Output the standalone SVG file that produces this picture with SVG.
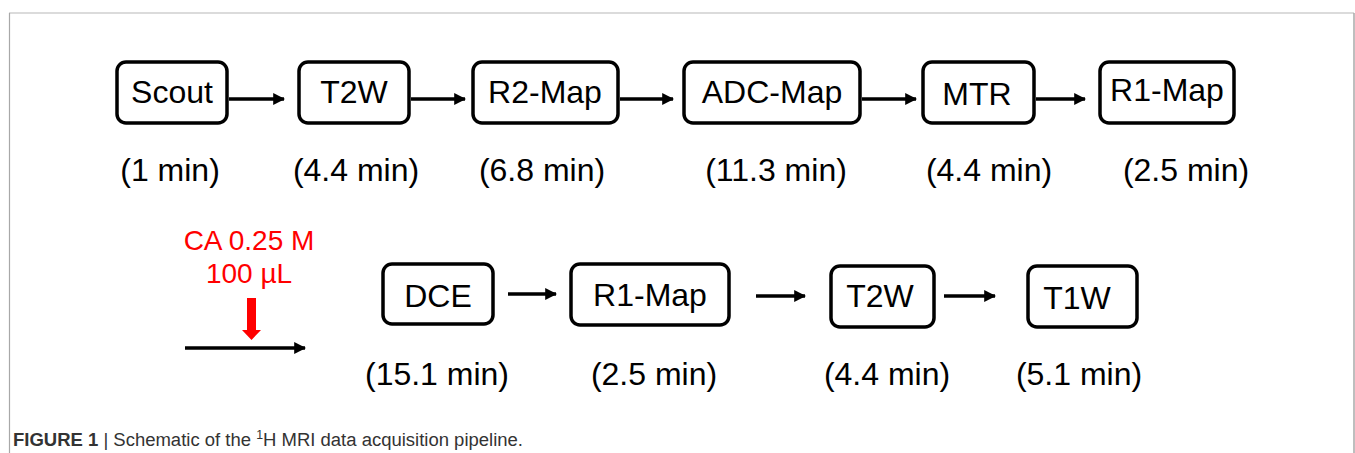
<svg xmlns="http://www.w3.org/2000/svg" width="1355" height="453" viewBox="0 0 1355 453">
<defs>
<style>
.box{fill:#fff;stroke:#000;stroke-width:3.5}
.lbl{font-family:"Liberation Sans",Arial,sans-serif;font-size:32px;fill:#000;text-anchor:middle}
.red{font-family:"Liberation Sans",Arial,sans-serif;font-size:28px;fill:#ff0000;text-anchor:middle}
.con{stroke:#000;stroke-width:3.6;fill:none;marker-end:url(#ah)}
.cap{font-family:"Liberation Sans",Arial,sans-serif;font-size:18px;fill:#333}
</style>
<marker id="ah" viewBox="0 0 10 10" refX="9" refY="5" markerUnits="userSpaceOnUse" markerWidth="12" markerHeight="12" orient="auto">
<path d="M0,0 L10,5 L0,10 z" fill="#000"/>
</marker>
</defs>
<rect width="1355" height="453" fill="#fff"/>
<g id="frame">
<line x1="9" y1="13" x2="1354" y2="13" stroke="#cfcfcf" stroke-width="1.5"/>
<line x1="9.5" y1="13" x2="9.5" y2="453" stroke="#a8a8a8" stroke-width="1.2"/>
<line x1="1354" y1="13" x2="1354" y2="453" stroke="#a8a8a8" stroke-width="1.5"/>
</g>
<g id="connectors">
<line class="con" x1="229" y1="99" x2="284" y2="99"/>
<line class="con" x1="411" y1="99" x2="465" y2="99"/>
<line class="con" x1="620" y1="99" x2="673" y2="99"/>
<line class="con" x1="862" y1="99" x2="916" y2="99"/>
<line class="con" x1="1036" y1="99" x2="1085" y2="99"/>
<line class="con" x1="508" y1="294" x2="556" y2="294"/>
<line class="con" x1="756" y1="296" x2="805" y2="296"/>
<line class="con" x1="944" y1="296" x2="995" y2="296"/>
<line class="con" x1="185" y1="348" x2="305" y2="348"/>
</g>
<g id="injection">
<text class="red" x="249" y="250">CA 0.25 M</text>
<text class="red" x="249" y="283">100 µL</text>
<path d="M247,298 H256 V330 H261 L251.5,340 L242,330 H247 Z" fill="#ff0000"/>
</g>
<g id="scout"><rect class="box" x="117" y="62" width="110" height="61" rx="9"/><text class="lbl" x="172" y="103">Scout</text><text class="lbl" x="170" y="181">(1 min)</text></g>
<g id="t2w1"><rect class="box" x="299" y="62" width="110" height="61" rx="9"/><text class="lbl" x="354" y="103">T2W</text><text class="lbl" x="356" y="181">(4.4 min)</text></g>
<g id="r2map"><rect class="box" x="473" y="62" width="145" height="61" rx="9"/><text class="lbl" x="545" y="103">R2-Map</text><text class="lbl" x="542" y="181">(6.8 min)</text></g>
<g id="adcmap"><rect class="box" x="684" y="62" width="176" height="61" rx="9"/><text class="lbl" x="772" y="103">ADC-Map</text><text class="lbl" x="776" y="181">(11.3 min)</text></g>
<g id="mtr"><rect class="box" x="923" y="62" width="111" height="61" rx="9"/><text class="lbl" x="977" y="105">MTR</text><text class="lbl" x="989" y="181">(4.4 min)</text></g>
<g id="r1map1"><rect class="box" x="1100" y="62" width="134" height="61" rx="9"/><text class="lbl" x="1167" y="101">R1-Map</text><text class="lbl" x="1186" y="181">(2.5 min)</text></g>
<g id="dce"><rect class="box" x="383" y="264" width="110" height="60" rx="9"/><text class="lbl" x="438" y="307">DCE</text><text class="lbl" x="437" y="385">(15.1 min)</text></g>
<g id="r1map2"><rect class="box" x="571" y="264" width="158" height="61" rx="9"/><text class="lbl" x="650" y="306">R1-Map</text><text class="lbl" x="654" y="385">(2.5 min)</text></g>
<g id="t2w2"><rect class="box" x="831" y="266" width="103" height="61" rx="9"/><text class="lbl" x="880" y="307">T2W</text><text class="lbl" x="887" y="385">(4.4 min)</text></g>
<g id="t1w"><rect class="box" x="1028" y="266" width="109" height="61" rx="9"/><text class="lbl" x="1077" y="309">T1W</text><text class="lbl" x="1079" y="385">(5.1 min)</text></g>
<g id="caption"><text class="cap" x="13" y="446" textLength="510" lengthAdjust="spacingAndGlyphs"><tspan font-weight="bold">FIGURE 1</tspan> | Schematic of the <tspan baseline-shift="super" font-size="12px">1</tspan>H MRI data acquisition pipeline.</text></g>
</svg>
